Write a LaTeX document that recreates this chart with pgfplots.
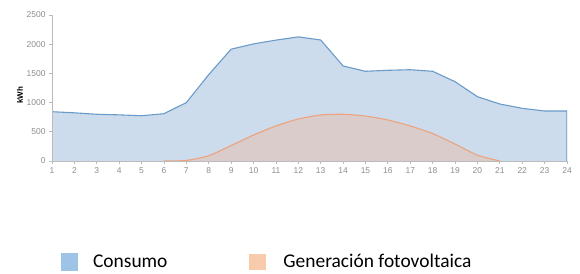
\documentclass[border=0pt]{standalone}
\usepackage{fontspec}
\setmainfont{Liberation Sans}
\newfontfamily\carlito{Carlito}
\usepackage{pgfplots}
\pgfplotsset{compat=1.18}
\definecolor{consfill}{HTML}{CCDCEC}
\definecolor{consline}{HTML}{6B9BC9}
\definecolor{pvfill}{HTML}{D9CCCB}
\definecolor{pvline}{HTML}{EDA37E}
\definecolor{legblue}{HTML}{9DC3E6}
\definecolor{legorange}{HTML}{F8CBAD}
\definecolor{axgray}{HTML}{BBBBBB}
\definecolor{tickgray}{HTML}{8C8C8C}
\begin{document}
\begin{tikzpicture}[x=1bp,y=1bp]
\path (0,0) rectangle (580,273);
\begin{axis}[
  at={(52bp,112bp)}, anchor=south west,
  scale only axis, width=515bp, height=146bp,
  xmin=1, xmax=24, ymin=0, ymax=2500,
  xtick={1,...,24}, ytick={0,500,...,2500},
  axis x line*=bottom, axis y line*=left,
  axis line style={axgray, line width=0.8bp},
  tick style={axgray, line width=0.8bp},
  major tick length=3bp, tick align=outside,
  axis on top,
  tick label style={font=\fontsize{8.5}{10}\selectfont, text=tickgray},
  /pgf/number format/assume math mode=true,
  /pgf/number format/1000 sep={},
  ylabel={kWh},
  ylabel style={at={(axis description cs:-0.062,0.45)}, anchor=center, font=\bfseries\fontsize{8}{10}\selectfont},
  legend style={at={(axis description cs:0.418,-0.69)}, anchor=center, draw=none, fill=none,
    font=\carlito\fontsize{19.5}{22}\selectfont, legend columns=2,
    /tikz/every even column/.append style={column sep=80bp}},
]
\addplot[fill=consfill, draw=none, forget plot] coordinates {
(1,844) (2,825) (3,800) (4,790) (5,775) (6,810) (7,1000) (8,1480) (9,1915) (10,2005) (11,2070) (12,2125) (13,2072) (14,1627) (15,1536) (16,1553) (17,1563) (18,1536) (19,1358) (20,1101) (21,976) (22,902) (23,856) (24,856)
} \closedcycle;
\addplot[pvfill, fill=pvfill, draw=none, smooth, tension=0.4, forget plot] coordinates {
(6,0) (7,10) (8,90) (9,265) (10,445) (11,600) (12,719) (13,788) (14,800) (15,770) (16,702) (17,600) (18,470) (19,290) (20,100) (21,0)
} \closedcycle;
\addplot[consline, line width=1.1bp, forget plot] coordinates {
(1,844) (2,825) (3,800) (4,790) (5,775) (6,810) (7,1000) (8,1480) (9,1915) (10,2005) (11,2070) (12,2125) (13,2072) (14,1627) (15,1536) (16,1553) (17,1563) (18,1536) (19,1358) (20,1101) (21,976) (22,902) (23,856) (24,856) (24,0)
};
\addplot[pvline, line width=1.1bp, smooth, tension=0.4, forget plot] coordinates {
(6,0) (7,10) (8,90) (9,265) (10,445) (11,600) (12,719) (13,788) (14,800) (15,770) (16,702) (17,600) (18,470) (19,290) (20,100) (21,0)
};
\addlegendimage{legend image code/.code={\fill[legblue, draw=none] (0bp,-9bp) rectangle (17bp,9bp); \path[draw=none] (0bp,0bp) -- (30bp,0bp);}}
\addlegendentry{Consumo}
\addlegendimage{legend image code/.code={\fill[legorange, draw=none] (0bp,-8bp) rectangle (17bp,8bp); \path[draw=none] (0bp,0bp) -- (32bp,0bp);}}
\addlegendentry{Generación fotovoltaica}
\end{axis}
\end{tikzpicture}
\end{document}
